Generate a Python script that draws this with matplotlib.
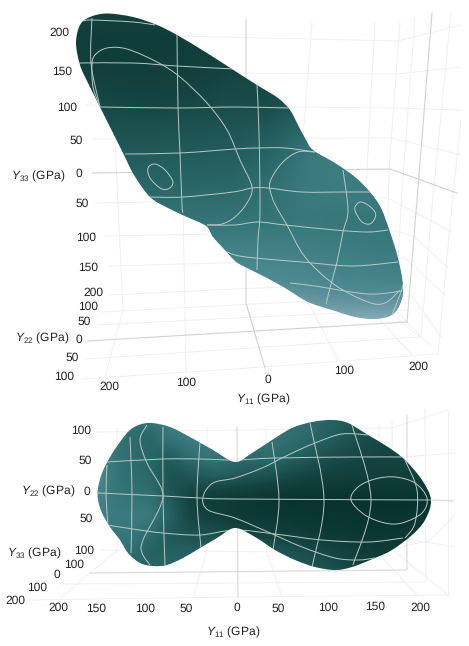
import matplotlib
matplotlib.use('Agg')
import matplotlib.pyplot as plt
from matplotlib.colors import LinearSegmentedColormap
from matplotlib.path import Path
from matplotlib.patches import PathPatch
import numpy as np

top_outline = [(107, 13.5), (133, 17), (157, 25), (177, 35), (207, 53), (235, 71), (257, 85), (278, 98),
               (290, 110), (298, 125), (305, 138), (313, 150), (335, 163), (355, 177), (370, 192), (381, 208),
               (390, 232), (398, 258), (403, 285), (401, 302), (392, 315), (375, 319), (355, 317), (332, 310),
               (308, 302), (285, 288), (265, 277), (245, 267), (235, 261), (223, 248), (213, 237), (206, 226),
               (187, 217), (168, 208), (150, 197), (134, 175), (123, 153), (112, 131), (100, 107), (88, 83),
               (80, 65), (76, 43), (80, 25), (90, 17)]

top_surface_lines = [
    [(83, 21), (92, 20), (133, 22), (155, 25)],
    [(79, 63), (133, 63), (177, 66), (235, 69)],
    [(100, 107), (177, 108), (235, 107), (288, 108)],
    [(125, 154), (180, 153), (235, 149), (258, 148), (285, 148), (315, 152)],
    [(148, 197), (183, 197), (233, 192), (252, 188), (268, 188), (302, 192), (345, 192), (370, 192)],
    [(207, 225), (235, 225), (258, 222), (285, 225), (335, 230), (368, 232), (388, 230)],
    [(223, 250), (235, 255), (255, 258), (302, 262), (352, 266), (398, 262)],
    [(290, 283), (315, 286), (368, 294), (402, 291)],
    [(92, 18), (91, 63), (100, 107)],
    [(177, 35), (178, 107), (180, 153), (182, 205), (183, 213)],
    [(257, 85), (259, 133), (260, 210), (258, 240), (257, 270)],
    [(343, 170), (348, 210), (343, 232), (337, 262), (330, 288), (326, 304)],
    [(403, 284), (401, 292), (392, 315)],
    [(100, 107), (93, 87), (92, 65), (95, 55), (107, 48), (127, 49), (157, 62), (180, 77), (207, 103), (227, 130),
     (240, 160), (252, 187), (247, 203), (235, 217), (222, 224), (207, 225)],
    [(315, 152), (298, 152), (282, 163), (270, 182), (272, 197), (278, 210), (287, 225), (305, 257), (335, 285),
     (368, 302), (385, 303), (400, 290)],
]
top_rings = [
    [(148, 168), (155, 164), (165, 170), (173, 182), (168, 189), (160, 188), (150, 178)],
    [(355, 207), (360, 202), (368, 205), (375, 212), (375, 218), (370, 224), (362, 222), (356, 213)],
]

top_grid_light = [
    [(177, 36), (398, 41), (461, 25)],
    [(235, 73), (397, 74), (461, 67)],
    [(86, 105), (393, 108), (461, 110)],
    [(92, 139), (392, 138), (461, 155)],
    [(95, 203), (388, 198), (452, 232)],
    [(104, 236), (395, 231), (415, 237), (448, 268)],
    [(108, 266), (405, 258), (445, 295)],
    [(110, 295), (235, 289), (402, 282), (442, 338)],
    [(100, 312), (235, 305), (410, 296)],
    [(98, 325), (235, 318), (408, 310)],
    [(86, 359), (235, 349), (420, 337)],
    [(82, 379), (235, 369), (438, 354)],
    [(123, 310), (105, 377)],
    [(115, 140), (118, 205), (123, 310)],
    [(183, 36), (183, 205), (186, 372)],
    [(312, 23), (303, 138), (296, 290), (308, 302), (338, 360)],
    [(375, 23), (367, 170), (362, 300), (378, 318), (412, 355)],
    [(400, 23), (389, 170), (386, 310), (420, 337)],
    [(415, 18), (402, 190), (395, 310), (430, 345)],
    [(451, 13), (432, 207), (421, 337)],
    [(461, 120), (452, 205), (438, 354)],
]
top_grid_dark = [
    [(246, 20), (246, 303), (265, 368)],
    [(432, 13), (417, 200), (407, 322)],
    [(88, 341), (407, 322)],
    [(92, 173), (390, 169), (457, 193)],
]

bottom_outline = [(98, 488), (102, 473), (110, 457), (120, 442), (130, 430), (140, 424.5), (152, 423), (170, 427),
                  (190, 437), (213, 450), (235, 462), (252, 453), (272, 440), (292, 428), (312, 422), (332, 420),
                  (348, 423), (368, 435), (388, 447), (405, 460), (422, 480), (431, 500), (425, 520), (412, 535),
                  (392, 550), (375, 558), (352, 567), (335, 570), (315, 567), (295, 560), (275, 550), (255, 537),
                  (235, 528), (217, 538), (200, 548), (183, 558), (167, 565), (153, 566), (140, 563), (128, 553),
                  (120, 540), (110, 527), (102, 513), (98, 500)]

bottom_surface_lines = [
    [(98, 493), (163, 496), (200, 498), (235, 499), (432, 500)],
    [(107, 462), (163, 459), (200, 459), (235, 460), (275, 458), (355, 457), (403, 457)],
    [(107, 525), (133, 529), (163, 533), (200, 535), (235, 530), (275, 534), (322, 540), (368, 542), (403, 538)],
    [(107, 465), (106, 495), (108, 525)],
    [(130, 437), (132, 493), (131, 553)],
    [(163, 427), (163, 497), (165, 565)],
    [(200, 442), (197, 497), (201, 548)],
    [(272, 442), (279, 500), (273, 550)],
    [(310, 423), (324, 500), (312, 567)],
    [(352, 425), (371, 500), (353, 565)],
    [(405, 460), (417, 490), (415, 523), (405, 538)],
    [(147, 425), (140, 440), (147, 463), (162, 490), (160, 507), (143, 540), (142, 553), (150, 565)],
    [(368, 435), (342, 434), (315, 443), (288, 455), (262, 468), (235, 478), (213, 483), (203, 497), (208, 510),
     (235, 518), (268, 532), (302, 547), (335, 558), (358, 560), (375, 558)],
]
bottom_rings = [
    [(351, 500), (358, 487), (375, 479), (395, 477), (415, 483), (427, 498), (422, 513), (402, 523), (385, 523),
     (365, 515)],
]

bottom_grid_light = [
    [(97, 432), (392, 428), (448, 410)],
    [(105, 462), (403, 457), (455, 453)],
    [(402, 538), (455, 547)],
    [(100, 550), (378, 553), (430, 540), (455, 515)],
    [(30, 600), (235, 597), (448, 595)],
    [(60, 584), (425, 582)],
    [(117, 428), (118, 550), (60, 598)],
    [(207, 427), (207, 550), (193, 598)],
    [(266, 427), (267, 552), (282, 597)],
    [(379, 425), (378, 553), (417, 595)],
    [(392, 420), (393, 550), (448, 595)],
    [(425, 410), (426, 582)],
    [(448, 412), (448, 595)],
]
bottom_grid_dark = [
    [(237, 427), (238, 597)],
    [(407, 415), (407, 570), (90, 573)],
    [(432, 500), (454, 501)],
]

# surface shade, 0 darkest to 1 palest
top_shade_x = [70, 110, 150, 190, 230, 270, 310, 350, 390, 430]
top_shade_y = [10, 40, 70, 100, 130, 160, 190, 220, 250, 280, 310, 330]
top_shade = [
    [.20, .18, .18, .20, .22, .25, .25, .25, .25, .25],
    [.15, .13, .13, .14, .18, .20, .20, .25, .25, .25],
    [.17, .15, .15, .16, .20, .25, .30, .30, .35, .35],
    [.24, .22, .20, .22, .26, .24, .34, .35, .40, .40],
    [.30, .30, .30, .31, .32, .36, .47, .50, .50, .50],
    [.40, .38, .38, .38, .40, .45, .60, .62, .60, .60],
    [.50, .48, .46, .46, .46, .52, .60, .62, .60, .60],
    [.60, .55, .55, .55, .55, .55, .58, .56, .56, .56],
    [.70, .70, .68, .66, .66, .66, .64, .62, .60, .60],
    [.85, .85, .85, .80, .78, .75, .73, .70, .68, .68],
    [1.0, 1.0, 1.0, .95, .90, .88, .86, .85, .85, .85],
    [1.0, 1.0, 1.0, 1.0, 1.0, 1.0, 1.0, 1.0, 1.0, 1.0],
]
bottom_shade_x = [90, 110, 130, 150, 170, 190, 215, 240, 270, 300, 330, 360, 390, 420, 440]
bottom_shade_y = [415, 435, 455, 475, 490, 500, 515, 535, 555, 575]
bottom_shade = [
    [.65, .62, .58, .60, .62, .62, .60, .55, .55, .50, .42, .32, .25, .20, .20],
    [.70, .60, .50, .44, .58, .62, .60, .55, .55, .50, .40, .28, .22, .20, .20],
    [.80, .60, .48, .44, .38, .52, .58, .50, .50, .40, .28, .22, .20, .20, .20],
    [.85, .58, .50, .46, .30, .33, .40, .35, .30, .22, .17, .16, .16, .16, .16],
    [.80, .58, .52, .50, .32, .22, .20, .17, .13, .10, .09, .08, .08, .08, .08],
    [.75, .58, .56, .54, .36, .18, .13, .09, .06, .04, .03, .03, .02, .02, .02],
    [.72, .60, .60, .60, .42, .20, .15, .10, .08, .06, .05, .04, .04, .05, .05],
    [.68, .58, .58, .48, .34, .30, .30, .22, .18, .14, .10, .08, .08, .10, .10],
    [.62, .55, .48, .40, .42, .42, .42, .40, .38, .30, .24, .16, .12, .12, .12],
    [.60, .55, .50, .48, .45, .45, .45, .42, .40, .35, .30, .20, .15, .15, .15],
]

tick_labels = ['200', '150', '100', '50', '0', '50', '100', '150', '200', '100', '50', '0', '50', '100',
               '200', '100', '0', '100', '200',
               '100', '50', '0', '50', '100', '100', '0', '100', '200',
               '200', '150', '100', '50', '0', '50', '100', '150', '200']
tick_x = [59, 62, 67, 76, 79, 82, 86, 88, 93, 88, 84, 79, 72, 64,
          109, 186, 268, 344, 418,
          81, 85, 87, 86, 84, 74, 57, 37, 15,
          58, 96, 145, 186, 237, 278, 328, 375, 420]
tick_y = [33, 72, 108, 141, 174, 204, 238, 268, 293, 307, 322, 340, 358, 377,
          387, 383, 380, 371, 367,
          431, 461, 492, 519, 551, 565, 575, 588, 601,
          608, 609, 609, 609, 608, 609, 608, 607, 608]
axis_names = [r'$\mathit{Y}_{33}$ (GPa)', r'$\mathit{Y}_{22}$ (GPa)', r'$\mathit{Y}_{11}$ (GPa)',
              r'$\mathit{Y}_{22}$ (GPa)', r'$\mathit{Y}_{33}$ (GPa)', r'$\mathit{Y}_{11}$ (GPa)']
axis_name_x = [38, 42, 263, 48, 34, 233]
axis_name_y = [176, 338, 399, 491, 553, 632]


def smooth_path(points, closed=False):
    # catmull-rom through the read points, as bezier segments
    p = np.array(points, dtype=float)
    if closed:
        q = np.vstack([p[[-1]], p, p[[0, 1]]])
    else:
        q = np.vstack([p[0], p, p[-1]])
    verts = [q[1]]
    codes = [Path.MOVETO]
    for i in range(1, len(q) - 2):
        verts.append(q[i] + (q[i + 1] - q[i - 1]) / 6)
        verts.append(q[i + 1] - (q[i + 2] - q[i]) / 6)
        verts.append(q[i + 1])
        codes += [Path.CURVE4] * 3
    return Path(verts, codes)


def shade_image(shade, sx, sy):
    # the shade samples are unevenly spaced, so lay them on a pixel grid and soften them
    px = np.arange(sx[0], sx[-1] + 1)
    py = np.arange(sy[0], sy[-1] + 1)
    rows = np.array([np.interp(px, sx, row) for row in shade])
    img = np.array([np.interp(py, sy, col) for col in rows.T]).T
    kernel = np.hanning(23)
    kernel = kernel / kernel.sum()
    for axis in (0, 1):
        pad = [(11, 11) if a == axis else (0, 0) for a in (0, 1)]
        img = np.apply_along_axis(lambda m: np.convolve(m, kernel, mode='valid'), axis,
                                  np.pad(img, pad, mode='edge'))
    return img


def draw_lines(ax, lines, color, lw, z, closed=False, clip=None):
    for line in lines:
        patch = PathPatch(smooth_path(line, closed), fill=False, ec=color, lw=lw, zorder=z)
        ax.add_patch(patch)
        if clip is not None:
            patch.set_clip_path(clip)


def draw_straight(ax, lines, color, lw, z):
    for line in lines:
        xs, ys = zip(*line)
        ax.plot(xs, ys, color=color, lw=lw, zorder=z, solid_joinstyle='miter')


plt.rcParams['font.family'] = ['Liberation Sans', 'DejaVu Sans']
plt.rcParams['mathtext.fontset'] = 'custom'
plt.rcParams['mathtext.rm'] = 'Liberation Sans'
plt.rcParams['mathtext.it'] = 'Liberation Sans:italic'
plt.rcParams['text.hinting'] = 'no_hinting'
plt.rcParams['text.hinting_factor'] = 1

teal = LinearSegmentedColormap.from_list('teal', [(0, '#06302b'), (.2, '#144441'), (.4, '#256060'),
                                                   (.6, '#3a7b7e'), (.75, '#4f8a92'), (1, '#a0b8c8')])

fig = plt.figure(figsize=(4.69, 6.46), dpi=100)
ax = fig.add_axes([0, 0, 1, 1])
ax.axis('off')

draw_straight(ax, top_grid_light, '#f0f0f0', 0.7, 1)
draw_straight(ax, bottom_grid_light, '#f0f0f0', 0.7, 1)
draw_straight(ax, top_grid_dark, '#d2d2d2', 0.8, 1.5)
draw_straight(ax, bottom_grid_dark, '#d8d8d8', 0.8, 1.5)

for outline, sx, sy, shade, lines, rings in [
        (top_outline, top_shade_x, top_shade_y, top_shade, top_surface_lines, top_rings),
        (bottom_outline, bottom_shade_x, bottom_shade_y, bottom_shade, bottom_surface_lines, bottom_rings)]:
    im = ax.imshow(shade_image(shade, sx, sy), cmap=teal, vmin=0, vmax=1, interpolation='bilinear', aspect='auto',
                   zorder=2, extent=[sx[0], sx[-1], sy[-1], sy[0]])
    edge = PathPatch(smooth_path(outline, True), transform=ax.transData, fill=False, ec='none')
    ax.add_patch(edge)
    im.set_clip_path(edge)
    draw_lines(ax, lines, '#b9c8c8', 0.7, 3, clip=edge)
    draw_lines(ax, rings, '#b9c8c8', 0.7, 3, closed=True, clip=edge)

for label, x, y in zip(tick_labels, tick_x, tick_y):
    ax.text(x, y, label, fontsize=8.3, color='#222222', ha='center', va='center', zorder=5)
for label, x, y in zip(axis_names, axis_name_x, axis_name_y):
    ax.text(x, y, label, fontsize=8.3, color='#222222', ha='center', va='center', zorder=5)

ax.set_xlim(0, 469)
ax.set_ylim(646, 0)
fig.savefig('out.png', dpi=100, facecolor='white')
